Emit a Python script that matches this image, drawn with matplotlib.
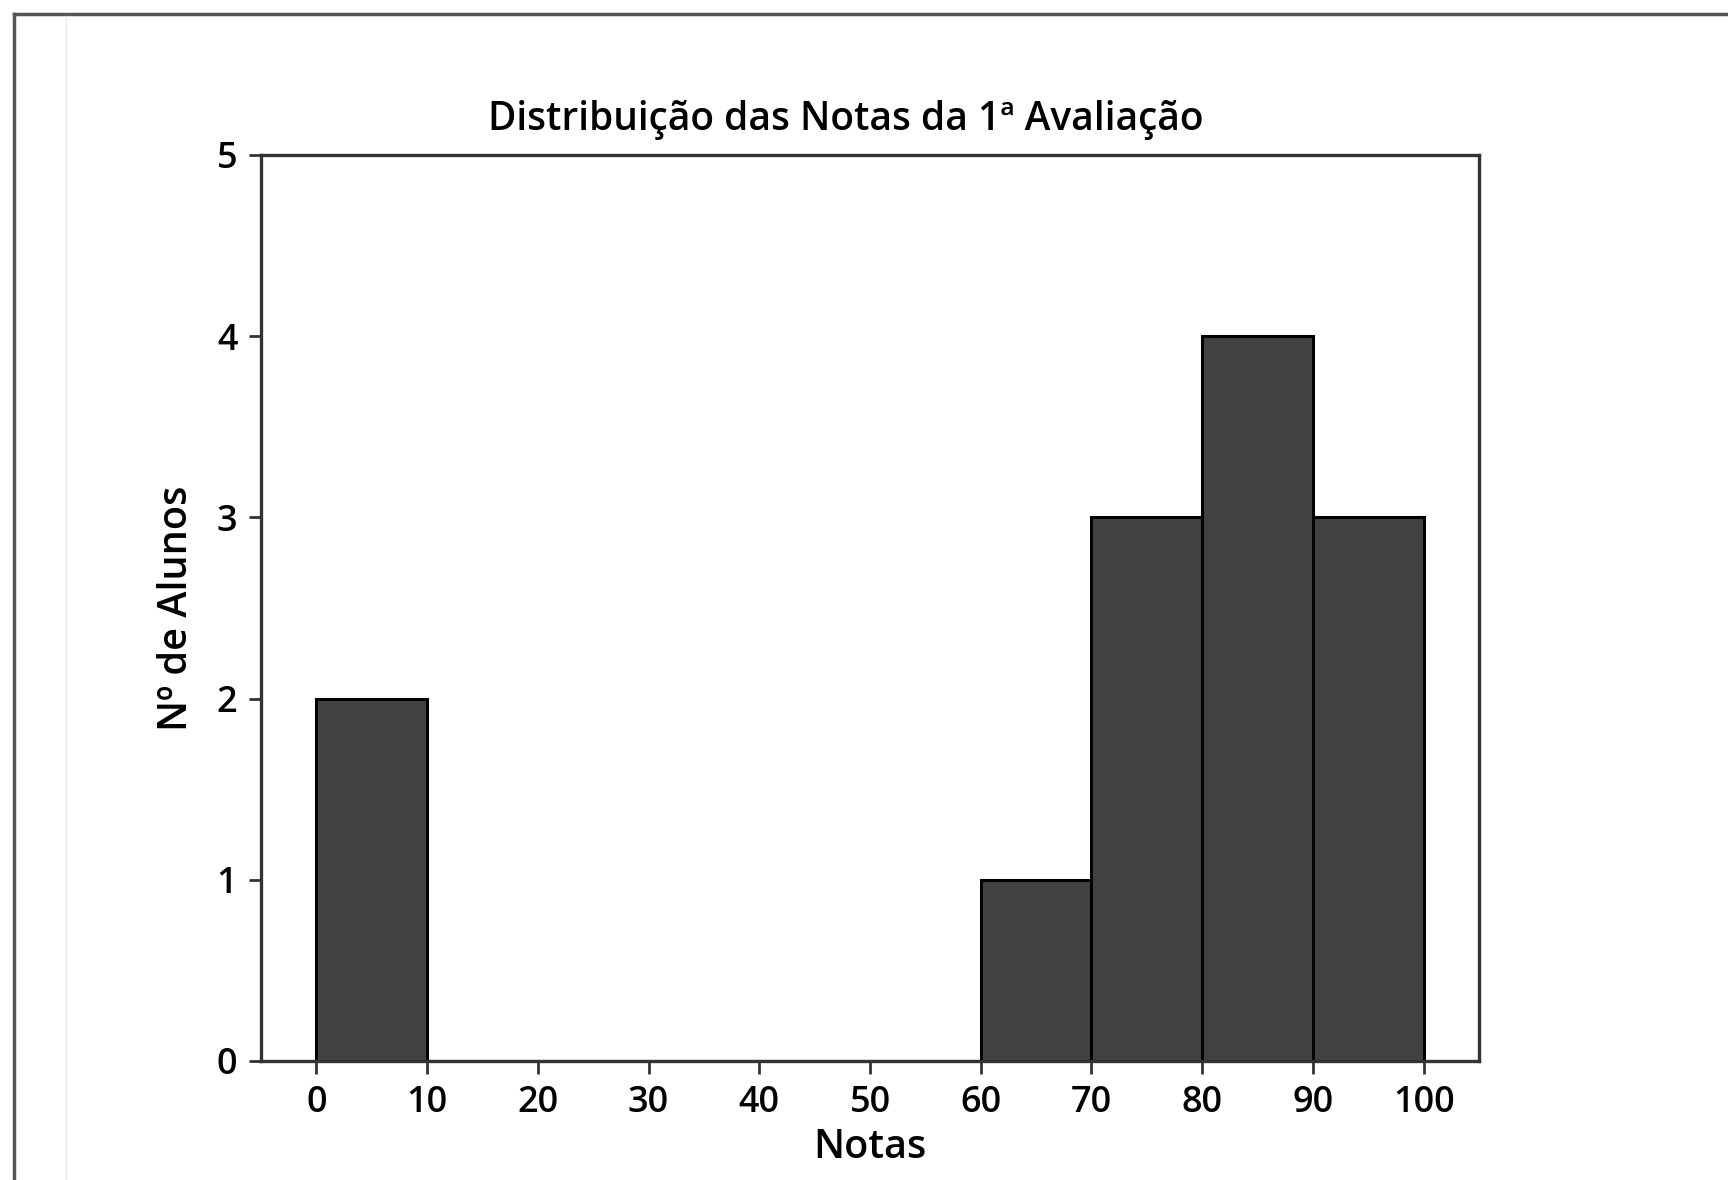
import matplotlib
matplotlib.use('Agg')
import matplotlib.pyplot as plt
from matplotlib.lines import Line2D

# grade bins and number of students per bin
bin_edges = [0, 10, 20, 30, 40, 50, 60, 70, 80, 90, 100]
counts = [2, 0, 0, 0, 0, 0, 1, 3, 4, 3]
xticks = [0, 10, 20, 30, 40, 50, 60, 70, 80, 90, 100]
yticks = [0, 1, 2, 3, 4, 5]

plt.rcParams['font.family'] = ['Open Sans', 'DejaVu Sans']
plt.rcParams['font.weight'] = 'semibold'
plt.rcParams['axes.titleweight'] = 'semibold'
plt.rcParams['axes.labelweight'] = 'semibold'

W, H = 1728, 1180
fig = plt.figure(figsize=(W / 100, H / 100), dpi=100)
ax = fig.add_axes([261 / W, 1 - 1061 / H, (1479 - 261) / W, (1061 - 155) / H])

ax.bar(bin_edges[:-1], counts, width=10, align='edge',
       color='#424242', edgecolor='black', linewidth=2.2)

ax.set_xlim(-5, 105)
ax.set_ylim(0, 5)
ax.set_xticks(xticks)
ax.set_yticks(yticks)
ax.tick_params(labelsize=26, length=9, width=2, color='#333333', pad=8)
for s in ax.spines.values():
    s.set_linewidth(2.4)
    s.set_color('#333333')

ax.set_title('Distribuição das Notas da 1ª Avaliação', fontsize=28, pad=18, x=0.48)
ax.set_xlabel('Notas', fontsize=28.5, labelpad=5)
ax.set_ylabel('Nº de Alunos', fontsize=28.5, labelpad=14)

# screenshot frame
fig.add_artist(Line2D([14 / W, 1], [1 - 14 / H, 1 - 14 / H],
                      transform=fig.transFigure, color='#555555', lw=2.5))
fig.add_artist(Line2D([14 / W, 14 / W], [0, 1 - 14 / H],
                      transform=fig.transFigure, color='#555555', lw=2.5))
fig.add_artist(Line2D([66 / W, 66 / W], [0, 1 - 16 / H],
                      transform=fig.transFigure, color='#e6e6e6', lw=1))

fig.savefig('out.png', dpi=100, facecolor='white')
